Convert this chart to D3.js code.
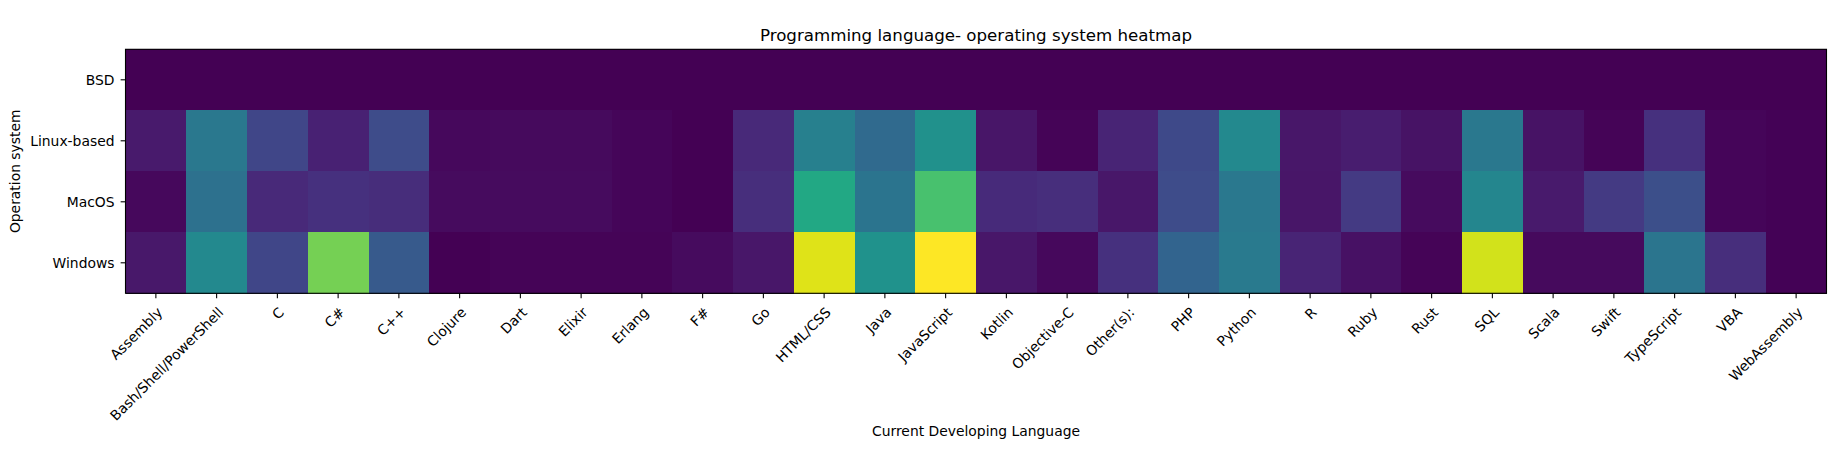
<!DOCTYPE html>
<html>
<head>
<meta charset="utf-8">
<script src="https://cdn.jsdelivr.net/npm/d3@7"></script>
<style>
  html, body { margin: 0; padding: 0; background: #fff; }
  svg { display: block; font-family: "DejaVu Sans", sans-serif; }
</style>
</head>
<body>
<svg id="chart" width="1846" height="475"></svg>
<script>
const languages = ["Assembly","Bash/Shell/PowerShell","C","C#","C++","Clojure","Dart","Elixir","Erlang","F#","Go","HTML/CSS","Java","JavaScript","Kotlin","Objective-C","Other(s):","PHP","Python","R","Ruby","Rust","SQL","Scala","Swift","TypeScript","VBA","WebAssembly"];
const systems = ["BSD","Linux-based","MacOS","Windows"];

// relative usage (max = 100)
const bsdValues     = [0.1,0.1,0.1,0.0,0.1,0.0,0.0,0.0,0.0,0.0,0.1,0.1,0.1,0.1,0.0,0.0,0.1,0.1,0.1,0.0,0.0,0.0,0.1,0.0,0.0,0.1,0.0,0.0];
const linuxValues   = [7,40,21,9,23,2,2.5,2.5,1.5,0.3,11.5,43,34,50,5.5,1,10,22,47,6,8,5,40,5,1,14,1.5,0.5];
const macValues     = [2,37,11.5,14,12.5,3,3,3,1.2,0.3,13,60,38.5,71,12,13,6,23,40,5.5,17,3,46,7,17,24,1.2,0.5];
const windowsValues = [6.5,47,21,79,28,0,1,1,0.8,3,6,95,51,100,6,2,14,32,41,10,4.5,1,93,2.5,2.5,39,13,0.5];
const rows = [bsdValues, linuxValues, macValues, windowsValues];

const titleText = "Programming language- operating system heatmap";
const xLabelText = "Current Developing Language";
const yLabelText = "Operation system";

const margin = {left: 125.5, right: 1846 - 1826.5, top: 49.3, bottom: 475 - 293.3};
const W = 1846, H = 475;
const pw = W - margin.left - margin.right;
const ph = H - margin.top - margin.bottom;

const svg = d3.select("#chart");
const g = svg.append("g").attr("transform", `translate(${margin.left},${margin.top})`);

const x = d3.scaleBand().domain(languages).range([0, pw]).padding(0);
const y = d3.scaleBand().domain(systems).range([0, ph]).padding(0);
const color = d3.scaleSequential(d3.interpolateViridis)
  .domain([0, d3.max(rows, r => d3.max(r))]);

const cells = [];
systems.forEach((s, i) => languages.forEach((l, j) => cells.push({s, l, v: rows[i][j]})));

g.selectAll("rect.cell").data(cells).join("rect")
  .attr("class", "cell")
  .attr("x", d => x(d.l))
  .attr("y", d => y(d.s))
  .attr("width", x.bandwidth() + 0.6)
  .attr("height", y.bandwidth() + 0.6)
  .attr("shape-rendering", "crispEdges")
  .attr("fill", d => color(d.v));

// frame
g.append("rect").attr("x", 0).attr("y", 0).attr("width", pw).attr("height", ph)
  .attr("fill", "none").attr("stroke", "#000").attr("stroke-width", 1.1);

const tickLen = 4.86;

// x axis
const xAxis = g.append("g").attr("transform", `translate(0,${ph})`)
  .call(d3.axisBottom(x).tickSize(tickLen).tickPadding(0));
xAxis.select(".domain").remove();
xAxis.selectAll(".tick line").attr("stroke", "#000").attr("stroke-width", 1.1);
xAxis.selectAll(".tick text")
  .attr("font-size", 13.89)
  .attr("font-family", "DejaVu Sans")
  .attr("fill", "#000")
  .attr("text-anchor", "end")
  .attr("dy", null)
  .attr("y", null)
  .attr("transform", "translate(7.5,20) rotate(-45)");

// y axis
const yAxis = g.append("g")
  .call(d3.axisLeft(y).tickSize(tickLen).tickPadding(0));
yAxis.select(".domain").remove();
yAxis.selectAll(".tick line").attr("stroke", "#000").attr("stroke-width", 1.1);
yAxis.selectAll(".tick text")
  .attr("font-size", 13.89)
  .attr("font-family", "DejaVu Sans")
  .attr("fill", "#000")
  .attr("x", -11)
  .attr("dy", null)
  .attr("y", 5);

// title
svg.append("text")
  .attr("x", margin.left + pw / 2).attr("y", 40.7)
  .attr("text-anchor", "middle")
  .attr("font-size", 16.67)
  .attr("fill", "#000")
  .text(titleText);

// x label
svg.append("text")
  .attr("x", margin.left + pw / 2).attr("y", 436)
  .attr("text-anchor", "middle")
  .attr("font-size", 13.89)
  .attr("fill", "#000")
  .text(xLabelText);

// y label
svg.append("text")
  .attr("transform", `translate(19.5,${margin.top + ph / 2}) rotate(-90)`)
  .attr("text-anchor", "middle")
  .attr("font-size", 13.89)
  .attr("fill", "#000")
  .text(yLabelText);
</script>
</body>
</html>
